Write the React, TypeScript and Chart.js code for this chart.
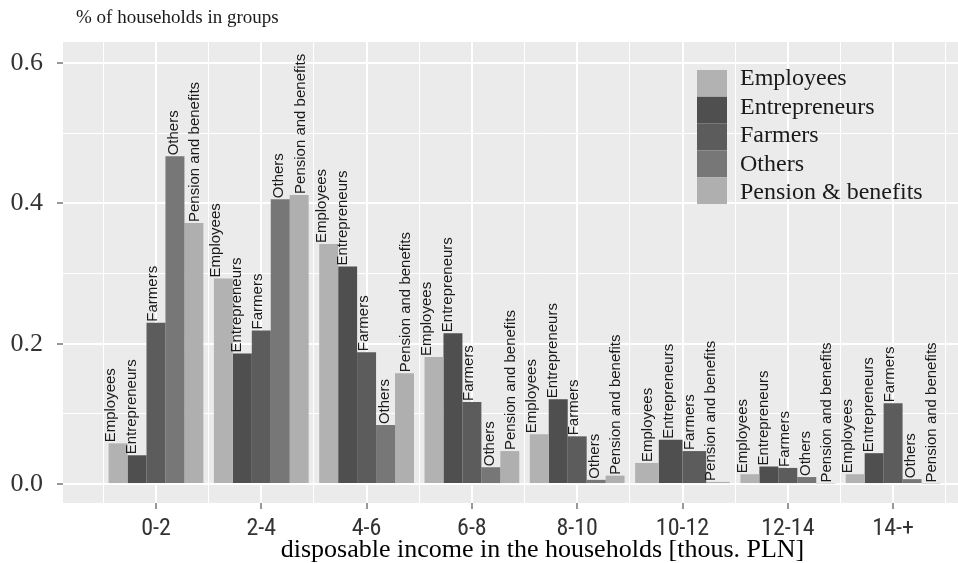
import React, { useEffect, useRef } from 'react';
import { Chart, registerables } from 'chart.js';

Chart.register(...registerables);

// ---------- data ----------
const categories = ['0-2', '2-4', '4-6', '6-8', '8-10', '10-12', '12-14', '14-+'];
const barLabels = ['Employees', 'Entrepreneurs', 'Farmers', 'Others', 'Pension and benefits'];
const legendLabels = ['Employees', 'Entrepreneurs', 'Farmers', 'Others', 'Pension & benefits'];

const employees = [0.058, 0.293, 0.342, 0.181, 0.071, 0.030, 0.014, 0.014];
const entrepreneurs = [0.041, 0.186, 0.310, 0.215, 0.121, 0.063, 0.025, 0.044];
const farmers = [0.230, 0.219, 0.188, 0.117, 0.068, 0.047, 0.023, 0.115];
const others = [0.467, 0.406, 0.084, 0.024, 0.006, null, 0.010, 0.007];
const pension = [0.372, 0.412, 0.158, 0.047, 0.012, 0.003, 0.0008, 0.0008];

const seriesValues: (number | null)[][] = [employees, entrepreneurs, farmers, others, pension];

const yGridValues = [0, 0.1, 0.2, 0.3, 0.4, 0.5, 0.6];
const xMinorValues = [0.5, 1.5, 2.5, 3.5, 4.5, 5.5, 6.5, 7.5, 8.5, 9.5];

const yTitle = '% of households in groups';
const xTitle = 'disposable income in the households [thous. PLN]';

// ---------- styles ----------
const seriesColors = ['#b2b2b2', '#4f4f4f', '#5c5c5c', '#777777', '#afafaf'];
const SERIF = '"Liberation Serif", "Times New Roman", Times, serif';
const SANS = '"Liberation Sans", Arial, Helvetica, sans-serif';
const NARROW = '"Liberation Sans Narrow", "Arial Narrow", "Roboto Condensed", "Liberation Sans", sans-serif';
const PANEL_BG = '#ebebeb';
const CANVAS_W = 1022; // plot is wider than the visible window (cropped on the right)
const CANVAS_H = 563;
const X_MIN = 0.117;
const X_MAX = 9.224;
const Y_MIN = -0.027;
const Y_MAX = 0.63;
const LABEL_DODGE = 0.2;
const LABEL_SHIFT = -3;

const isMajorY = (v: number) => Math.round(v * 10) % 2 === 0;

const ggPlugin = {
  id: 'ggDecor',
  beforeDraw(chart: any) {
    const { ctx, chartArea } = chart;
    ctx.save();
    ctx.fillStyle = '#ffffff';
    ctx.fillRect(0, 0, chart.width, chart.height);
    ctx.fillStyle = PANEL_BG;
    ctx.fillRect(chartArea.left, chartArea.top, chartArea.right - chartArea.left, chartArea.bottom - chartArea.top);
    ctx.restore();
  },
  afterDatasetsDraw(chart: any) {
    const { ctx, chartArea } = chart;
    const xs = chart.scales.x;
    const ys = chart.scales.y;
    // bar labels
    ctx.save();
    ctx.font = `15px ${SANS}`;
    ctx.fillStyle = '#1a1a1a';
    for (let i = 0; i < categories.length; i++) {
      const present = seriesValues.map((_, k) => k).filter((k) => seriesValues[k][i] != null);
      const n = present.length;
      present.forEach((k, j) => {
        const v = seriesValues[k][i] as number;
        const xv = i + 1 + (j - (n - 1) / 2) * LABEL_DODGE;
        const px = xs.getPixelForValue(xv) + LABEL_SHIFT;
        const py = ys.getPixelForValue(v);
        ctx.save();
        ctx.translate(px, py);
        ctx.rotate(-Math.PI / 2);
        ctx.textAlign = 'left';
        ctx.textBaseline = 'middle';
        ctx.fillText(barLabels[k], 1, 0);
        ctx.restore();
      });
    }
    ctx.restore();

    // legend
    ctx.save();
    const lx = 697;
    const ly = 70;
    const keyW = 30;
    const keyH = 26.8;
    legendLabels.forEach((lab, k) => {
      ctx.fillStyle = seriesColors[k];
      ctx.fillRect(lx, ly + k * keyH, keyW, keyH);
    });
    ctx.font = `24px ${SERIF}`;
    ctx.fillStyle = '#1a1a1a';
    ctx.textAlign = 'left';
    ctx.textBaseline = 'alphabetic';
    legendLabels.forEach((lab, k) => {
      ctx.fillText(lab, lx + 43, ly + 15 + k * 28.6);
    });
    ctx.restore();

    // top-left axis title
    ctx.save();
    ctx.font = `19px ${SERIF}`;
    ctx.fillStyle = '#1a1a1a';
    ctx.textAlign = 'left';
    ctx.textBaseline = 'alphabetic';
    ctx.fillText(yTitle, chartArea.left + 13, 23);
    ctx.restore();
  },
};

export default function App() {
  const canvasRef = useRef<HTMLCanvasElement | null>(null);

  useEffect(() => {
    const canvas = canvasRef.current;
    if (!canvas) return;
    const datasets = seriesValues.map((vals, k) => ({
      label: legendLabels[k],
      data: vals.map((v, i) => ({ x: i + 1, y: v })),
      backgroundColor: seriesColors[k],
      borderWidth: 0,
      barPercentage: 1,
      categoryPercentage: 0.9,
      skipNull: true,
    }));

    const chart = new Chart(canvas, {
      type: 'bar',
      data: { datasets } as any,
      plugins: [ggPlugin],
      options: {
        animation: false,
        responsive: false,
        devicePixelRatio: 1,
        layout: { padding: { top: 42, left: 0, right: 0, bottom: 0 } },
        plugins: {
          legend: { display: false },
          title: { display: false },
          tooltip: { enabled: false },
        },
        scales: {
          x: {
            type: 'linear',
            position: 'bottom',
            offset: false,
            min: X_MIN,
            max: X_MAX,
            afterBuildTicks: (s: any) => {
              s.ticks = categories.map((_, i) => ({ value: i + 1 }));
            },
            afterFit: (s: any) => {
              s.height = 60;
            },
            grid: { offset: false, color: '#ffffff', lineWidth: 2, tickColor: '#333333', tickWidth: 1, tickLength: 6 },
            border: { display: false },
            ticks: {
              callback: (v: any) => categories[Math.round(Number(v)) - 1] ?? '',
              font: { family: NARROW, size: 24 },
              color: '#333333',
              padding: 6,
              autoSkip: false,
              maxRotation: 0,
              minRotation: 0,
            },
            title: {
              display: true,
              text: xTitle,
              font: { family: SERIF, size: 26, lineHeight: 1 },
              color: '#000000',
              padding: 0,
            },
          },
          xMinor: {
            type: 'linear',
            position: 'bottom',
            offset: false,
            min: X_MIN,
            max: X_MAX,
            afterBuildTicks: (s: any) => {
              s.ticks = xMinorValues.map((v) => ({ value: v }));
            },
            afterFit: (s: any) => {
              s.height = 0;
            },
            grid: { offset: false, color: '#ffffff', lineWidth: 1, drawTicks: false },
            border: { display: false },
            ticks: { display: false },
          },
          y: {
            type: 'linear',
            min: Y_MIN,
            max: Y_MAX,
            afterBuildTicks: (s: any) => {
              s.ticks = yGridValues.map((v) => ({ value: v }));
            },
            afterFit: (s: any) => {
              s.width = 63;
            },
            grid: {
              color: '#ffffff',
              lineWidth: (c: any) => (c.tick && isMajorY(c.tick.value) ? 2 : 1),
              tickColor: (c: any) => (c.tick && isMajorY(c.tick.value) ? '#333333' : 'rgba(0,0,0,0)'),
              tickWidth: 1,
              tickLength: 6,
            },
            border: { display: false },
            ticks: {
              callback: (v: any) => (isMajorY(Number(v)) ? Number(v).toFixed(1) : ''),
              font: { family: SERIF, size: 26 },
              color: '#333333',
              padding: 14,
              autoSkip: false,
            },
          },
        },
      } as any,
    });
    return () => chart.destroy();
  }, []);

  return (
    <div style={{ position: 'absolute', left: 0, top: 0, width: 958, height: 563, overflow: 'hidden', background: '#fff' }}>
      <canvas ref={canvasRef} width={CANVAS_W} height={CANVAS_H} style={{ width: CANVAS_W, height: CANVAS_H, display: 'block' }} />
    </div>
  );
}
